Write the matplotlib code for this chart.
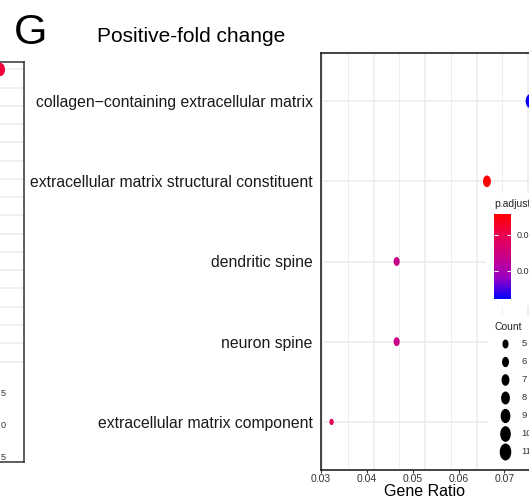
import matplotlib
matplotlib.use("Agg")
import matplotlib.pyplot as plt
from matplotlib.colors import LinearSegmentedColormap, Normalize
from matplotlib.path import Path
from matplotlib.transforms import Affine2D
import matplotlib.cm as cm
import numpy as np

plt.rcParams['font.family'] = ['Liberation Sans', 'DejaVu Sans']

# GO terms, bottom to top as on the y axis
go_terms = ["extracellular matrix component", "neuron spine", "dendritic spine",
            "extracellular matrix structural constituent",
            "collagen\u2212containing extracellular matrix"]
gene_ratio = [0.0323, 0.0465, 0.0465, 0.0662, 0.0757]
gene_count = [3, 5, 5, 7, 9]
p_adjust = [0.0108, 0.0160, 0.0160, 0.0045, 0.0275]

ratio_ticks = [0.03, 0.04, 0.05, 0.06, 0.07]
padj_range = [0.0042, 0.0278]
padj_ticks = [0.01, 0.02]
count_breaks = [5, 6, 7, 8, 9, 10, 11]

# neighbouring panel, only its right edge is in view
left_rows = 17
left_dot_row = 1
left_labels = ["5", "0", "5"]

W, H = 529, 499
PX = 4600  # px per unit of gene ratio


def fig_box(x0, y0, x1, y1):
    """Pixel box (from top left) to figure fraction rect."""
    return [x0 / W, 1 - y1 / H, (x1 - x0) / W, (y1 - y0) / H]


def dot_size(n):
    """Count -> scatter size, ellipse height in px grows with count."""
    h = 1.33 * np.asarray(n, dtype=float) + 2.33
    return (h * 0.72) ** 2


# ggplot-like red->blue gradient (Lab interpolated stops)
cmap = LinearSegmentedColormap.from_list("padj", ["#FF0000", "#E90050", "#C90088", "#9A00C3", "#0000FF"])
norm = Normalize(vmin=padj_range[0], vmax=padj_range[1])

# the whole panel was squeezed sideways, so dots are ellipses
ellipse = Path.unit_circle().transformed(Affine2D().scale(0.68, 1.0))

fig = plt.figure(figsize=(W / 100, H / 100), dpi=100)

# ---- left neighbour panel (cut off) ----
axl = fig.add_axes(fig_box(-150, 62, 24, 462))
axl.set_xlim(0, 1)
axl.set_ylim(left_rows + 5.5, 0.6)
for r in range(1, left_rows + 1):
    axl.axhline(r, color="#EBEBEB", lw=1.1, zorder=0)
axl.scatter([0.86], [left_dot_row], s=90, color="#F0003C", marker=ellipse, linewidths=0, zorder=3)
axl.set_xticks([])
axl.set_yticks([])
for s in axl.spines.values():
    s.set_color("#333333")
    s.set_linewidth(1.1)
for i, t in enumerate(left_labels):
    fig.text(6 / W, 1 - (393 + 32 * i) / H, t, ha="right", va="center", fontsize=6.5, color="#333333")

# ---- main panel ----
ax = fig.add_axes(fig_box(321, 53, 620, 470))
ax.set_xlim(0.03 + 1 / PX, 0.03 + 300 / PX)
ax.set_ylim(0.4, len(go_terms) + 0.6)

ypos = np.arange(1, len(go_terms) + 1)
ax.set_yticks(ypos)
ax.set_yticklabels(go_terms, fontsize=11.3, color="#1A1A1A")
ax.tick_params(axis="y", length=0, pad=6)
ax.grid(axis="y", color="#EBEBEB", lw=1.1)

grid_x = np.arange(ratio_ticks[0] + 1 / PX, 0.095, 25.85 / PX)
for i, g in enumerate(grid_x):
    ax.axvline(g, color="#EBEBEB", lw=1.1 if i % 2 == 0 else 0.6, zorder=0)
ax.set_axisbelow(True)

ax.set_xticks(ratio_ticks)
ax.set_xticklabels([f"{v:.2f}" for v in ratio_ticks], fontsize=7.5, color="#333333")
ax.tick_params(axis="x", length=2, pad=1, color="#333333")

ax.scatter(gene_ratio, ypos, s=dot_size(gene_count), c=p_adjust, cmap=cmap, norm=norm,
           marker=ellipse, linewidths=0, zorder=3)

for side in ["left", "top", "bottom", "right"]:
    ax.spines[side].set_color("#222222")
    ax.spines[side].set_linewidth(1.2)

fig.text(425 / W, 1 - 491 / H, "Gene Ratio", ha="center", va="center", fontsize=11.5)

# ---- colour legend ----
bg1 = fig.add_axes(fig_box(486, 193, 600, 306))
bg1.set_facecolor("white")
bg1.set_xticks([])
bg1.set_yticks([])
for s in bg1.spines.values():
    s.set_visible(False)
fig.text(494 / W, 1 - 204 / H, "p.adjust", ha="left", va="center", fontsize=7.5, color="#222222")
cax = fig.add_axes(fig_box(494, 214, 511, 299))
cb = fig.colorbar(cm.ScalarMappable(norm=norm, cmap=cmap), cax=cax)
cb.outline.set_visible(False)
cax.invert_yaxis()
cb.set_ticks(padj_ticks)
cb.set_ticklabels([f"{v:.2f}" for v in padj_ticks])
cax.tick_params(direction="in", color="white", length=3, width=0.8, left=True, right=True,
                labelsize=6.5, labelcolor="#333333", pad=4)

# ---- count legend ----
axc = fig.add_axes(fig_box(488, 316, 600, 468))
axc.set_facecolor("white")
axc.set_xlim(488, 600)
axc.set_ylim(468, 316)
axc.set_xticks([])
axc.set_yticks([])
for s in axc.spines.values():
    s.set_visible(False)
key_y = 344 + 18 * np.arange(len(count_breaks))
axc.scatter(np.full(len(count_breaks), 505.5), key_y, s=dot_size(count_breaks), color="black",
            marker=ellipse, linewidths=0)
for y, n in zip(key_y, count_breaks):
    axc.text(521.5, y, str(n), ha="left", va="center", fontsize=6.8, color="#333333")
axc.text(494, 327, "Count", ha="left", va="center", fontsize=7.5, color="#222222")

# ---- titles ----
fig.text(14 / W, 1 - 33 / H, "G", ha="left", va="center", fontsize=31)
fig.text(97 / W, 1 - 37 / H, "Positive-fold change", ha="left", va="center", fontsize=15)

fig.savefig("out.png", dpi=100)
